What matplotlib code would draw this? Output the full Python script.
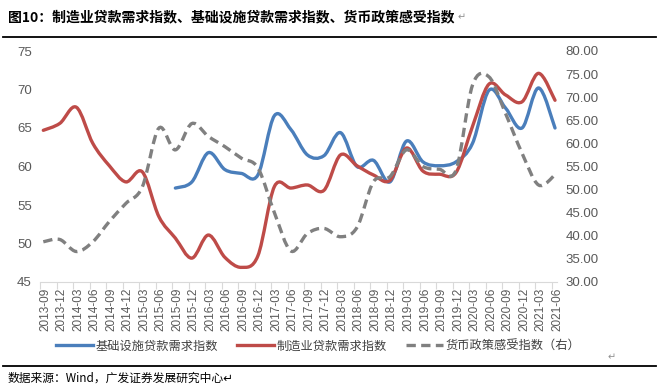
import numpy as np
import matplotlib
matplotlib.use("Agg")
import matplotlib.pyplot as plt
from matplotlib.path import Path
from matplotlib.patches import PathPatch
from matplotlib.lines import Line2D

# ── Data ───────────────────────────────────────────────────────────────────────
QUARTERS = [
    "2013-09", "2013-12", "2014-03", "2014-06", "2014-09", "2014-12",
    "2015-03", "2015-06", "2015-09", "2015-12", "2016-03", "2016-06",
    "2016-09", "2016-12", "2017-03", "2017-06", "2017-09", "2017-12",
    "2018-03", "2018-06", "2018-09", "2018-12", "2019-03", "2019-06",
    "2019-09", "2019-12", "2020-03", "2020-06", "2020-09", "2020-12",
    "2021-03", "2021-06",
]

# 基础设施贷款需求指数 (left axis), starts 2015-09
INFRA = [np.nan] * 8 + [
    57.2, 58.0, 61.8, 59.6, 59.1, 58.9, 66.6, 64.8,
    61.5, 61.4, 64.4, 60.0, 60.8, 58.0, 63.3, 60.6,
    60.1, 60.6, 63.0, 69.9, 67.6, 65.0, 70.2, 65.0,
]

# 制造业贷款需求指数 (left axis)
MANUF = [
    64.7, 65.6, 67.7, 63.0, 60.1, 58.0, 59.3, 53.5,
    50.7, 48.1, 51.1, 48.2, 46.9, 48.4, 57.4, 57.2,
    57.6, 56.9, 61.5, 60.1, 58.9, 58.2, 62.4, 59.4,
    59.0, 59.2, 65.2, 70.7, 69.3, 68.4, 72.1, 68.6,
]

# 货币政策感受指数 (right axis)
POLICY = [
    38.7, 39.2, 36.6, 38.7, 43.1, 47.0, 50.6, 63.3,
    58.6, 64.3, 61.5, 59.3, 56.8, 54.7, 45.0, 36.7,
    40.5, 41.6, 39.8, 41.8, 51.7, 52.8, 58.6, 55.0,
    54.4, 54.2, 72.6, 74.4, 66.5, 57.9, 51.0, 53.2,
]

LEFT_TICKS = [45, 50, 55, 60, 65, 70, 75]
RIGHT_TICKS = [30, 35, 40, 45, 50, 55, 60, 65, 70, 75, 80]

BLUE = "#4A7EBB"
RED = "#BE4B48"
GREY = "#808080"
TICK_GREY = "#595959"
CJK = ["Noto Sans CJK SC", "DejaVu Sans"]


def smooth_path(xs, ys):
    """Excel-style smoothed line: cubic Bezier segments through every point."""
    pts = np.array([(x, y) for x, y in zip(xs, ys) if not np.isnan(y)])
    n = len(pts)
    verts = [pts[0]]
    codes = [Path.MOVETO]
    for i in range(n - 1):
        p0 = pts[i - 1] if i > 0 else pts[i]
        p1, p2 = pts[i], pts[i + 1]
        p3 = pts[i + 2] if i + 2 < n else pts[i + 1]
        verts += [p1 + (p2 - p0) / 6, p2 - (p3 - p1) / 6, p2]
        codes += [Path.CURVE4] * 3
    return Path(verts, codes)


fig = plt.figure(figsize=(6.59, 3.91), dpi=100)
ax = fig.add_axes([40 / 659, 1 - 282 / 391, 517 / 659, 231 / 391])
ax2 = ax.twinx()

x = np.arange(len(QUARTERS))
LW = 2.4

ax.add_patch(PathPatch(smooth_path(x, INFRA), fill=False, edgecolor=BLUE,
                       lw=LW, capstyle="round", joinstyle="round"))
ax.add_patch(PathPatch(smooth_path(x, MANUF), fill=False, edgecolor=RED,
                       lw=LW, capstyle="round", joinstyle="round"))
ax2.add_patch(PathPatch(smooth_path(x, POLICY), fill=False, edgecolor=GREY,
                        lw=LW, linestyle=(0, (2.8, 1.6)), capstyle="butt"))

# ── Axes ───────────────────────────────────────────────────────────────────────
ax.set_xlim(-0.18, 31.06)
ax.set_ylim(45, 75)
ax2.set_ylim(30, 80)

ax.set_xticks(x + 0.12)
ax.set_xticklabels(QUARTERS, rotation=90, fontsize=8.5, color=TICK_GREY,
                   family="Liberation Sans")
ax.tick_params(axis="x", which="major", length=0, pad=4)
ax.set_xticks(x - 0.2, minor=True)
ax.tick_params(axis="x", which="minor", length=5, color="#D9D9D9", width=0.8)

ax.set_yticks(LEFT_TICKS)
ax.set_yticklabels([str(v) for v in LEFT_TICKS], fontsize=9.5,
                   color=TICK_GREY, family="Liberation Sans")
ax.tick_params(axis="y", length=0, pad=6)

ax2.set_yticks(RIGHT_TICKS)
ax2.set_yticklabels([f"{v:.2f}" for v in RIGHT_TICKS], fontsize=9.5,
                    color=TICK_GREY, family="Liberation Sans")
ax2.tick_params(axis="y", length=0, pad=6)

for s in ["top", "left", "right"]:
    ax.spines[s].set_visible(False)
for s in ax2.spines.values():
    s.set_visible(False)
ax.spines["bottom"].set_color("#D9D9D9")
ax.spines["bottom"].set_linewidth(0.8)

# ── Legend ─────────────────────────────────────────────────────────────────────
handles = [
    Line2D([], [], color=BLUE, lw=LW),
    Line2D([], [], color=RED, lw=LW),
    Line2D([], [], color=GREY, lw=LW, linestyle=(0, (2.8, 1.6))),
]
labels = ["基础设施贷款需求指数", "制造业贷款需求指数", "货币政策感受指数（右）"]
fig.legend(handles, labels, loc="center", bbox_to_anchor=(0.483, 1 - 346 / 391),
           ncol=3, frameon=False, prop={"family": CJK, "size": 8.8},
           handlelength=3.0, handletextpad=0.2, columnspacing=1.6,
           labelcolor="#404040")

# ── Title, rules and source note ───────────────────────────────────────────────
fig.text(0.012, 1 - 17 / 391, "图10：制造业贷款需求指数、基础设施贷款需求指数、货币政策感受指数",
         fontsize=10, weight="bold", family=CJK, va="center", ha="left")
fig.text(0.695, 1 - 17 / 391, "↵", fontsize=7, color="#909090", family=CJK,
         va="center")
fig.add_artist(Line2D([0.005, 0.995], [1 - 37 / 391] * 2, color="black", lw=1.3))
fig.add_artist(Line2D([0.005, 0.995], [1 - 366 / 391] * 2, color="black", lw=1.3))
fig.text(608 / 659, 1 - 357 / 391, "↵", fontsize=7, color="#909090", family=CJK,
         va="center")
fig.text(0.012, 1 - 378 / 391, "数据来源：Wind，广发证券发展研究中心↵",
         fontsize=8.5, family=CJK, va="center", ha="left")

fig.savefig("out.png", dpi=100)
